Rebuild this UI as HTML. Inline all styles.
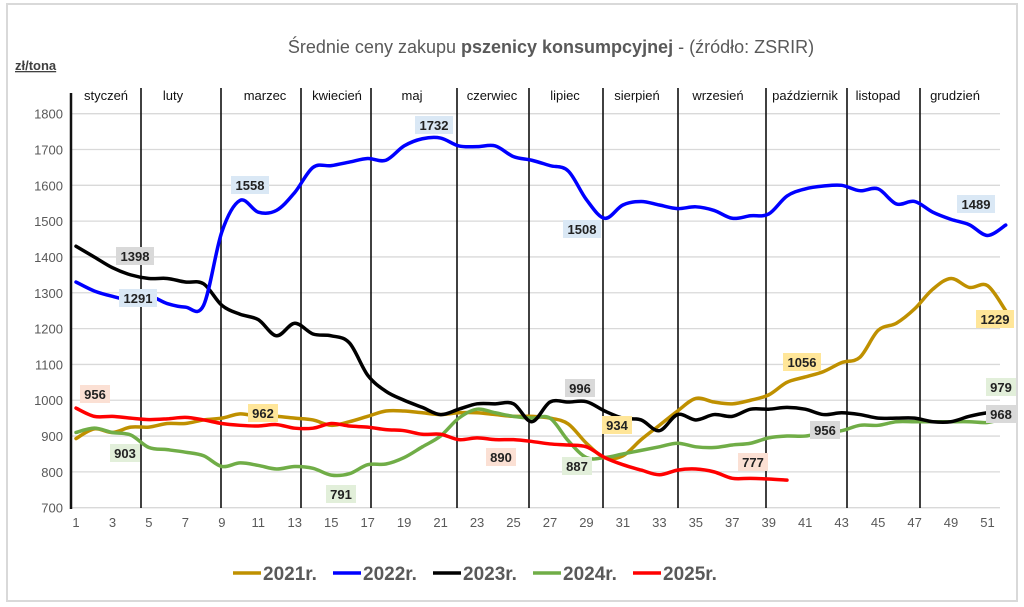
<!DOCTYPE html>
<html><head><meta charset="utf-8"><style>
body{margin:0;background:#fff;}
svg{display:block;font-family:"Liberation Sans",sans-serif;}
</style></head><body>
<svg id="c" width="1024" height="607" xmlns="http://www.w3.org/2000/svg">
<rect x="7" y="4" width="1010" height="597" fill="#fff" stroke="#d9d9d9" stroke-width="2"/>
<text x="551" y="53" text-anchor="middle" font-size="18" fill="#595959">Średnie ceny zakupu <tspan font-weight="bold">pszenicy konsumpcyjnej</tspan> - (źródło: ZSRIR)</text>
<text x="15" y="70" font-size="13" font-weight="bold" fill="#404040" text-decoration="underline">zł/tona</text>
<g id="grid" stroke="#d9d9d9" stroke-width="1.3"></g>
<g id="ylab" font-size="13" fill="#595959" text-anchor="end"></g>
<g id="xlab" font-size="13" fill="#595959" text-anchor="middle"></g>
<g id="sep" stroke="#111" stroke-width="1.6"></g>
<g font-size="13" fill="#111" text-anchor="middle">
<text x="106" y="100">styczeń</text><text x="173" y="100">luty</text><text x="265" y="100">marzec</text>
<text x="337" y="100">kwiecień</text><text x="412" y="100">maj</text><text x="492" y="100">czerwiec</text>
<text x="565" y="100">lipiec</text><text x="637" y="100">sierpień</text><text x="718" y="100">wrzesień</text>
<text x="805" y="100">październik</text><text x="878" y="100">listopad</text><text x="955" y="100">grudzień</text>
</g>
<g id="series" fill="none" stroke-width="3.5" stroke-linejoin="round" stroke-linecap="round"></g>
<g id="labels" font-size="13" font-weight="bold" fill="#222" text-anchor="middle"></g>
<g font-size="19" font-weight="bold" fill="#595959">
<line x1="233" y1="573" x2="261" y2="573" stroke="#bf9000" stroke-width="3.5"/><text x="263" y="580">2021r.</text>
<line x1="333" y1="573" x2="361" y2="573" stroke="#0000ff" stroke-width="3.5"/><text x="363" y="580">2022r.</text>
<line x1="433" y1="573" x2="461" y2="573" stroke="#000" stroke-width="3.5"/><text x="463" y="580">2023r.</text>
<line x1="533" y1="573" x2="561" y2="573" stroke="#70ad47" stroke-width="3.5"/><text x="563" y="580">2024r.</text>
<line x1="633" y1="573" x2="661" y2="573" stroke="#ff0000" stroke-width="3.5"/><text x="663" y="580">2025r.</text>
</g>
</svg>
<script>
const NS="http://www.w3.org/2000/svg";
const X=w=>76+(w-1)*18.23, Y=v=>507.7-(v-700)*0.3582;
function el(p,t,a,txt){const e=document.createElementNS(NS,t);for(const k in a)e.setAttribute(k,a[k]);if(txt!=null)e.textContent=txt;document.getElementById(p).appendChild(e);return e;}
for(let v=700;v<=1800;v+=100){el("grid","line",{x1:72,x2:1000,y1:Y(v),y2:Y(v)});el("ylab","text",{x:63,y:Y(v)+5},v);}
for(let w=1;w<=51;w+=2)el("xlab","text",{x:X(w),y:527},w);
el("sep","line",{x1:71,x2:71,y1:93,y2:509,"stroke-width":2.5});
[141,221,301,371,457,529,603,678,766,847,920].forEach((x,i)=>el("sep","line",{x1:x,x2:x,y1:88,y2:508}));
function path(d,c){const p=d.map((v,i)=>[X(i+1),Y(v)]);let s="M"+p[0][0]+","+p[0][1];
for(let i=0;i<p.length-1;i++){const p0=p[i-1]||p[i],p1=p[i],p2=p[i+1],p3=p[i+2]||p2;
s+=" C"+(p1[0]+(p2[0]-p0[0])/6)+","+(p1[1]+(p2[1]-p0[1])/6)+" "+(p2[0]-(p3[0]-p1[0])/6)+","+(p2[1]-(p3[1]-p1[1])/6)+" "+p2[0]+","+p2[1];}
el("series","path",{d:s,stroke:c});}
const s21=[893,920,910,925,925,935,935,945,950,962,955,955,950,945,930,940,955,970,970,965,960,965,965,960,955,955,950,934,880,840,845,890,930,970,1005,995,990,1000,1015,1050,1065,1080,1105,1120,1195,1215,1255,1310,1340,1315,1320,1250];
const s22=[1330,1305,1290,1280,1291,1270,1260,1265,1470,1558,1525,1530,1580,1650,1655,1665,1675,1670,1710,1730,1732,1710,1708,1710,1680,1670,1655,1640,1560,1508,1545,1555,1545,1535,1540,1530,1508,1515,1520,1570,1590,1598,1600,1585,1590,1548,1555,1525,1505,1490,1460,1489];
const s23=[1430,1400,1370,1350,1340,1340,1330,1325,1265,1240,1225,1180,1215,1185,1180,1160,1070,1025,1000,980,960,975,990,990,990,940,995,995,996,970,950,945,915,960,945,960,955,975,975,980,975,960,965,960,950,950,950,940,940,955,965,968];
const s24=[910,922,910,903,868,862,855,845,815,825,818,808,815,810,791,795,820,822,840,870,900,950,975,965,955,950,950,887,840,840,850,860,870,880,870,868,875,880,895,900,900,910,915,930,930,940,940,940,940,940,938,950];
const s25=[978,955,955,950,946,948,952,945,935,930,928,932,922,922,935,928,925,918,915,905,905,890,895,890,890,885,878,875,870,840,820,805,792,805,808,800,782,782,780,777];
path(s21,"#bf9000");path(s24,"#70ad47");path(s25,"#ff0000");path(s23,"#000");path(s22,"#0000ff");
[[95,394,"956","#fbe0d4"],[135,256,"1398","#d9d9d9"],[138,298,"1291","#dae8f5"],[250,185,"1558","#dae8f5"],[434,125,"1732","#dae8f5"],[582,229,"1508","#dae8f5"],[976,204,"1489","#dae8f5"],[995,319,"1229","#ffe699"],[802,362,"1056","#ffe699"],[580,388,"996","#d9d9d9"],[617,425,"934","#ffe699"],[501,457,"890","#fbe0d4"],[577,466,"887","#e2efda"],[825,430,"956","#d9d9d9"],[753,462,"777","#fbe0d4"],[1001,387,"979","#e2efda"],[1001,414,"968","#d9d9d9"],[263,413,"962","#ffe699"],[125,453,"903","#e2efda"],[341,494,"791","#e2efda"]].forEach(([x,y,t,c])=>{
const w=t.length*8+6;el("labels","rect",{x:x-w/2,y:y-9,width:w,height:18,fill:c,stroke:"none"});el("labels","text",{x:x,y:y+5},t);});
</script>
</body></html>
